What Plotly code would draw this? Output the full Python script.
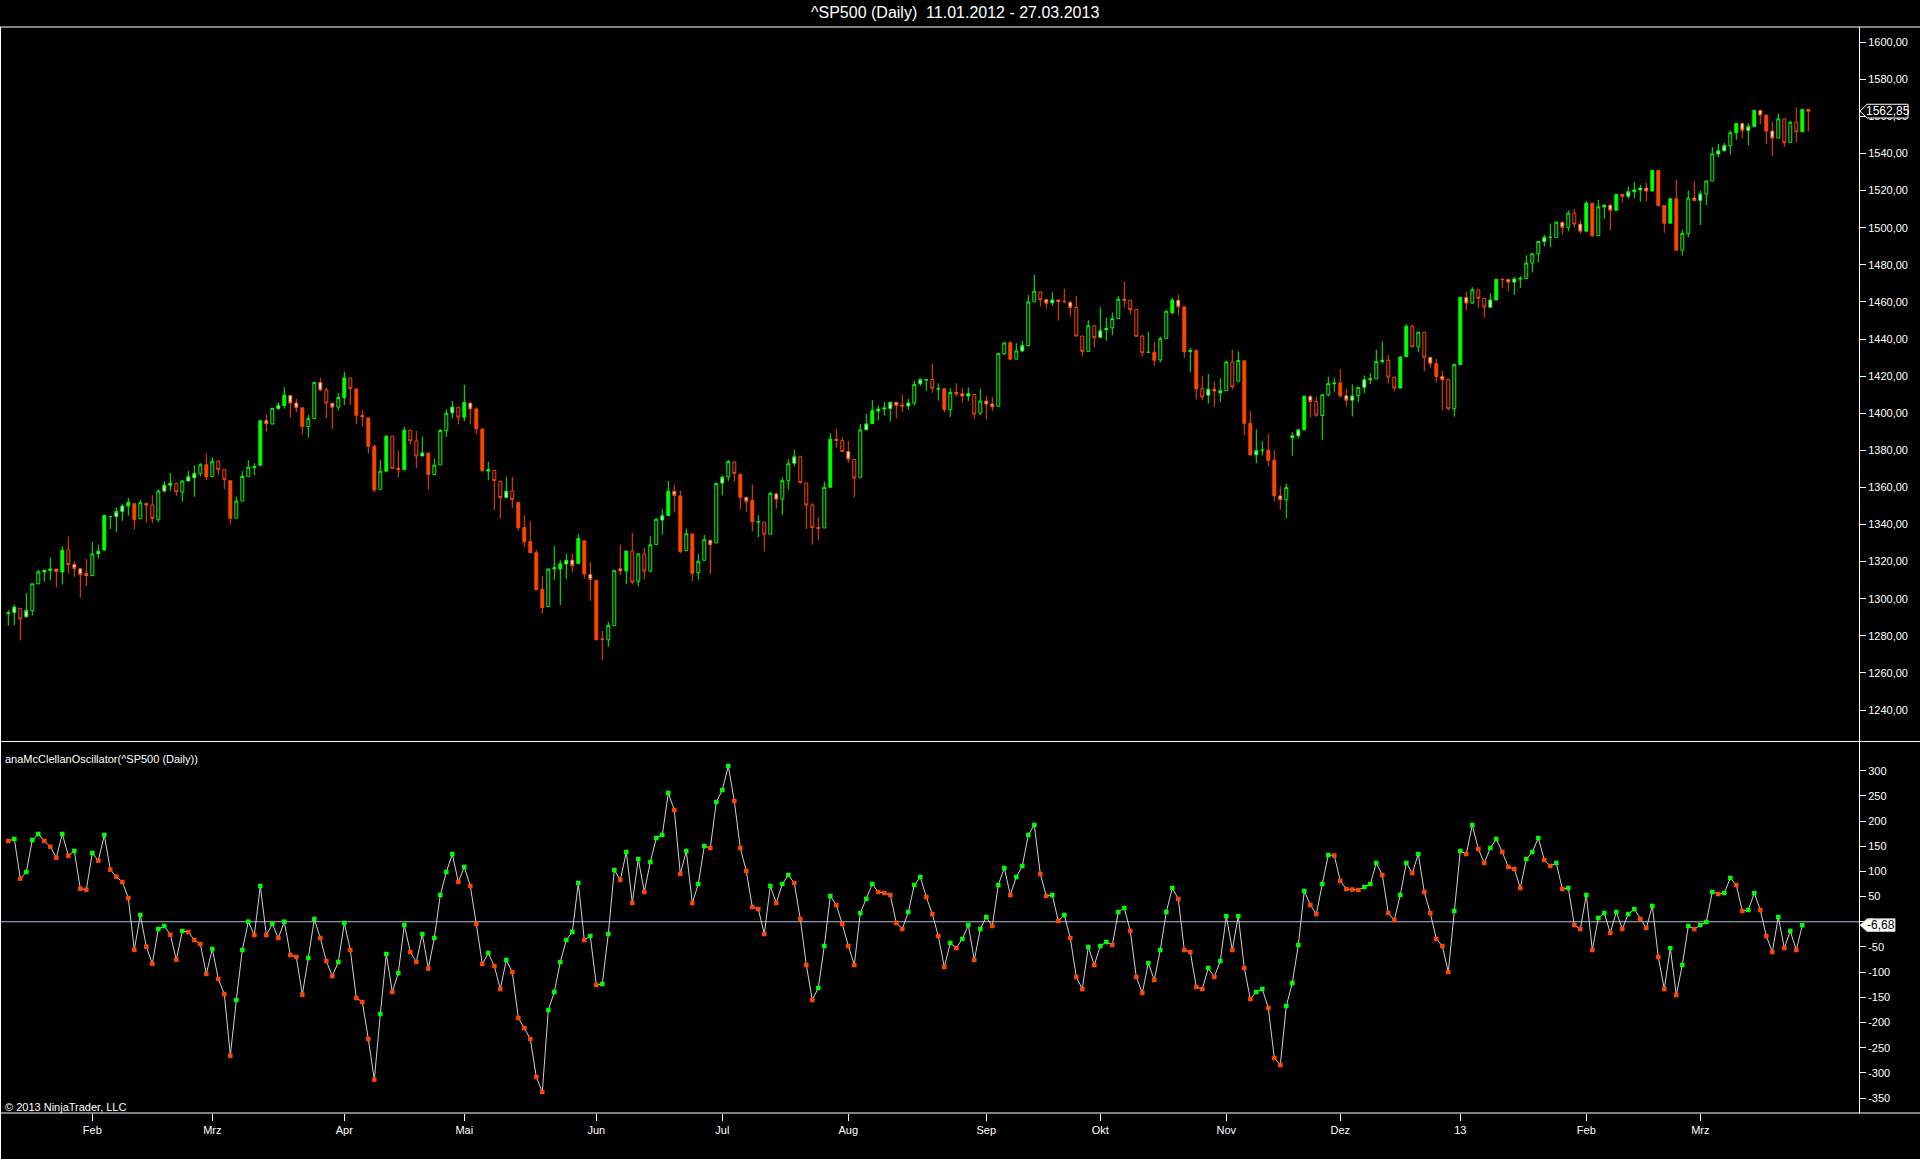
import pandas as pd
import plotly.graph_objects as go

# trading days on the chart (the data feed has no bars for 5 Nov and 19 Nov 2012)
closed = ['2012-01-16', '2012-02-20', '2012-04-06', '2012-05-28', '2012-07-04',
          '2012-09-03', '2012-10-29', '2012-10-30', '2012-11-05', '2012-11-19',
          '2012-11-22', '2012-12-25', '2013-01-01', '2013-01-21', '2013-02-18']
days = pd.bdate_range('2012-01-11', '2013-03-27')
dates = [d.strftime('%Y-%m-%d') for d in days if d.strftime('%Y-%m-%d') not in closed]

opens = [
    1292.02, 1292.48, 1294.82, 1290.22, 1293.65, 1308.07, 1314.49, 1315.29, 1315.96, 1314.40,
    1326.28, 1318.43, 1316.16, 1313.53, 1312.45, 1324.24, 1326.21, 1344.32, 1344.33, 1347.04,
    1349.97, 1351.21, 1343.06, 1351.30, 1350.52, 1342.61, 1358.06, 1361.22, 1362.11, 1357.53,
    1363.46, 1365.20, 1367.56, 1372.20, 1365.90, 1374.09, 1369.59, 1363.63, 1343.39, 1352.65,
    1365.97, 1370.78, 1371.92, 1395.95, 1394.17, 1402.55, 1404.17, 1409.59, 1405.52, 1402.89,
    1392.78, 1397.11, 1416.55, 1412.52, 1405.39, 1403.31, 1408.47, 1418.98, 1413.09, 1398.79,
    1397.45, 1382.18, 1358.98, 1368.77, 1387.61, 1370.27, 1369.57, 1390.78, 1385.08, 1376.96,
    1378.53, 1366.97, 1372.11, 1390.64, 1400.19, 1403.26, 1397.86, 1405.50, 1402.32, 1391.51,
    1368.79, 1369.16, 1363.20, 1354.58, 1358.11, 1351.93, 1338.36, 1330.78, 1324.82, 1305.05,
    1295.73, 1316.09, 1316.02, 1318.72, 1320.81, 1318.90, 1331.25, 1313.09, 1309.87, 1278.29,
    1277.82, 1285.61, 1316.15, 1314.99, 1325.72, 1309.40, 1324.02, 1314.88, 1329.19, 1342.42,
    1344.83, 1357.98, 1355.43, 1325.92, 1334.90, 1314.09, 1320.71, 1331.52, 1330.12, 1362.33,
    1365.75, 1373.72, 1367.09, 1354.66, 1352.96, 1341.40, 1341.29, 1334.81, 1356.50, 1353.68,
    1363.58, 1373.01, 1376.51, 1362.34, 1350.52, 1338.35, 1338.17, 1360.05, 1385.94, 1385.27,
    1379.32, 1375.13, 1365.45, 1391.04, 1394.46, 1401.23, 1402.26, 1402.58, 1405.87, 1404.36,
    1403.89, 1405.57, 1415.84, 1417.85, 1418.13, 1413.09, 1413.17, 1401.99, 1411.13, 1410.44,
    1409.32, 1410.08, 1400.07, 1406.54, 1404.94, 1403.74, 1432.12, 1437.92, 1429.13, 1433.56,
    1436.56, 1460.07, 1465.42, 1461.19, 1459.50, 1461.05, 1460.34, 1459.76, 1456.94, 1441.60,
    1433.36, 1447.13, 1440.90, 1444.99, 1446.05, 1451.08, 1461.40, 1460.93, 1455.90, 1441.48,
    1432.82, 1432.84, 1428.75, 1440.31, 1454.22, 1460.94, 1457.34, 1433.21, 1433.74, 1413.20,
    1409.74, 1412.97, 1410.99, 1412.16, 1427.59, 1417.26, 1428.27, 1394.53, 1377.55, 1379.86,
    1380.03, 1374.64, 1355.41, 1353.36, 1386.82, 1387.79, 1391.03, 1409.15, 1406.29, 1398.77,
    1409.96, 1415.95, 1416.34, 1409.46, 1407.05, 1409.43, 1413.95, 1418.07, 1418.55, 1427.84,
    1428.48, 1419.45, 1413.54, 1430.47, 1446.79, 1435.81, 1443.67, 1430.15, 1426.66, 1419.83,
    1418.10, 1402.43, 1426.19, 1462.42, 1459.37, 1466.47, 1461.89, 1457.15, 1461.02, 1472.12,
    1472.05, 1470.67, 1472.33, 1472.63, 1480.95, 1485.98, 1492.56, 1494.81, 1494.82, 1502.96,
    1500.18, 1507.84, 1501.96, 1498.11, 1513.17, 1495.71, 1511.29, 1512.12, 1509.39, 1517.93,
    1517.01, 1519.43, 1520.33, 1521.38, 1519.79, 1530.94, 1511.95, 1502.42, 1515.60, 1487.85,
    1496.94, 1515.99, 1514.68, 1518.20, 1525.20, 1539.79, 1541.46, 1544.26, 1551.15, 1556.22,
    1552.48, 1554.52, 1563.21, 1560.70, 1552.10, 1548.34, 1558.71, 1546.06, 1556.89, 1551.69,
    1563.75]

highs = [
    1293.80, 1296.82, 1294.82, 1303.00, 1308.11, 1315.49, 1315.38, 1322.28, 1315.96, 1328.30,
    1333.47, 1320.06, 1316.16, 1321.41, 1330.52, 1329.19, 1345.34, 1344.36, 1349.24, 1351.00,
    1354.32, 1351.21, 1353.35, 1351.30, 1355.87, 1359.02, 1363.40, 1367.76, 1362.70, 1364.24,
    1368.92, 1371.94, 1373.09, 1378.04, 1376.17, 1374.53, 1369.59, 1363.63, 1354.85, 1368.72,
    1374.76, 1373.04, 1396.13, 1399.42, 1402.63, 1405.88, 1414.00, 1409.59, 1407.75, 1402.89,
    1399.18, 1416.58, 1419.15, 1413.65, 1405.39, 1410.89, 1422.38, 1419.00, 1413.09, 1401.60,
    1397.45, 1383.01, 1374.71, 1388.13, 1387.61, 1379.66, 1392.76, 1390.78, 1390.46, 1387.40,
    1378.53, 1375.57, 1391.37, 1402.09, 1406.64, 1403.26, 1415.32, 1405.50, 1403.07, 1391.51,
    1373.91, 1369.16, 1363.73, 1365.88, 1365.66, 1351.93, 1345.03, 1341.78, 1326.36, 1312.24,
    1316.39, 1328.49, 1320.71, 1324.14, 1324.20, 1334.93, 1331.25, 1319.74, 1309.87, 1282.55,
    1287.62, 1315.13, 1329.05, 1325.81, 1335.52, 1324.31, 1327.28, 1333.68, 1343.32, 1348.22,
    1363.46, 1361.57, 1358.27, 1337.82, 1334.90, 1324.24, 1334.40, 1331.52, 1362.17, 1366.35,
    1374.81, 1373.85, 1367.09, 1354.87, 1361.54, 1345.00, 1341.29, 1357.70, 1357.26, 1365.36,
    1375.26, 1380.39, 1376.51, 1362.34, 1351.53, 1343.98, 1363.13, 1389.19, 1391.74, 1387.16,
    1385.03, 1375.13, 1394.16, 1399.63, 1407.14, 1404.14, 1405.95, 1405.98, 1405.87, 1410.03,
    1407.73, 1417.44, 1418.71, 1418.13, 1426.68, 1416.12, 1413.17, 1413.46, 1416.17, 1413.63,
    1413.95, 1410.08, 1413.09, 1409.31, 1408.81, 1432.12, 1437.92, 1438.74, 1437.76, 1439.15,
    1463.76, 1474.51, 1465.63, 1461.47, 1465.15, 1461.23, 1467.07, 1460.72, 1463.24, 1441.60,
    1450.20, 1447.13, 1457.14, 1451.52, 1454.30, 1463.14, 1470.96, 1460.93, 1455.90, 1442.52,
    1443.90, 1438.43, 1441.31, 1455.51, 1462.20, 1464.02, 1457.34, 1435.46, 1433.74, 1420.04,
    1421.12, 1417.09, 1418.76, 1428.35, 1434.27, 1433.38, 1428.27, 1401.23, 1391.39, 1384.87,
    1388.81, 1380.13, 1360.62, 1362.03, 1389.77, 1391.25, 1409.16, 1409.15, 1409.01, 1410.05,
    1419.70, 1418.86, 1423.73, 1413.14, 1415.56, 1413.95, 1420.34, 1421.64, 1434.27, 1438.59,
    1431.36, 1419.45, 1430.67, 1448.00, 1447.75, 1443.70, 1443.67, 1430.15, 1429.42, 1422.80,
    1418.10, 1426.74, 1462.43, 1465.47, 1467.94, 1466.47, 1461.89, 1464.73, 1472.30, 1472.75,
    1472.05, 1473.31, 1473.96, 1485.16, 1485.98, 1492.56, 1496.13, 1502.27, 1503.26, 1503.23,
    1509.35, 1509.94, 1504.19, 1514.41, 1513.17, 1514.96, 1512.53, 1512.90, 1518.31, 1518.31,
    1522.29, 1524.69, 1523.14, 1524.24, 1530.94, 1530.94, 1511.95, 1515.64, 1525.84, 1498.99,
    1520.08, 1525.34, 1519.99, 1525.27, 1543.47, 1545.25, 1545.78, 1552.48, 1556.27, 1556.77,
    1556.39, 1563.32, 1563.62, 1560.70, 1557.25, 1561.56, 1558.71, 1557.74, 1564.91, 1563.95,
    1564.07]

lows = [
    1285.41, 1285.77, 1277.58, 1290.22, 1290.99, 1308.07, 1309.17, 1309.89, 1306.06, 1307.65,
    1313.60, 1311.72, 1300.49, 1306.69, 1312.45, 1321.57, 1326.21, 1337.52, 1335.92, 1341.95,
    1344.63, 1337.35, 1343.06, 1340.83, 1340.80, 1341.22, 1357.24, 1358.11, 1355.53, 1352.28,
    1363.46, 1354.92, 1365.97, 1363.81, 1365.90, 1366.42, 1359.13, 1340.03, 1343.39, 1352.65,
    1365.97, 1366.69, 1371.92, 1389.97, 1394.17, 1401.47, 1402.43, 1397.68, 1400.64, 1388.73,
    1386.87, 1397.11, 1411.95, 1397.20, 1391.56, 1401.42, 1404.46, 1404.62, 1394.09, 1392.92,
    1378.24, 1357.38, 1358.98, 1368.77, 1369.85, 1365.38, 1369.57, 1383.29, 1370.30, 1376.96,
    1358.79, 1366.82, 1372.11, 1387.28, 1397.31, 1394.00, 1395.73, 1393.92, 1388.71, 1367.96,
    1363.94, 1347.75, 1343.13, 1354.58, 1348.89, 1336.61, 1327.75, 1324.79, 1304.86, 1291.98,
    1295.73, 1310.04, 1296.53, 1310.50, 1314.23, 1318.90, 1310.76, 1298.90, 1277.25, 1266.74,
    1274.16, 1285.61, 1312.68, 1307.77, 1307.73, 1306.62, 1310.51, 1314.14, 1329.19, 1334.46,
    1344.83, 1346.45, 1324.41, 1325.92, 1309.27, 1310.30, 1320.71, 1313.29, 1330.12, 1355.70,
    1363.53, 1363.02, 1348.03, 1346.65, 1336.27, 1333.25, 1325.41, 1334.81, 1348.51, 1345.07,
    1358.96, 1371.21, 1362.19, 1337.56, 1329.24, 1331.50, 1338.17, 1360.05, 1381.37, 1379.17,
    1373.35, 1354.65, 1365.45, 1391.04, 1394.46, 1396.13, 1398.80, 1395.62, 1397.32, 1400.60,
    1401.83, 1404.15, 1414.67, 1412.12, 1410.86, 1406.78, 1400.50, 1398.04, 1409.11, 1405.59,
    1406.57, 1397.01, 1398.96, 1396.56, 1401.25, 1403.74, 1431.45, 1428.98, 1429.13, 1432.99,
    1435.91, 1460.07, 1457.55, 1456.13, 1457.88, 1449.98, 1459.51, 1452.06, 1441.59, 1430.53,
    1433.36, 1435.60, 1440.90, 1439.01, 1441.99, 1451.08, 1456.89, 1453.10, 1441.18, 1430.64,
    1432.82, 1425.53, 1427.24, 1440.31, 1453.35, 1452.63, 1429.85, 1422.06, 1407.56, 1407.10,
    1405.14, 1403.28, 1405.95, 1412.16, 1412.91, 1417.26, 1388.14, 1377.51, 1373.03, 1377.19,
    1371.39, 1352.50, 1348.05, 1343.35, 1377.04, 1386.39, 1391.03, 1397.68, 1398.03, 1385.43,
    1409.04, 1411.63, 1408.46, 1403.65, 1398.23, 1405.93, 1410.90, 1415.64, 1418.55, 1426.76,
    1416.00, 1411.88, 1413.54, 1430.47, 1435.80, 1432.82, 1422.58, 1424.66, 1416.43, 1401.80,
    1401.58, 1398.11, 1426.19, 1455.53, 1458.99, 1456.62, 1451.64, 1457.15, 1461.02, 1467.58,
    1465.69, 1463.76, 1467.60, 1472.63, 1475.81, 1481.16, 1489.90, 1489.46, 1494.82, 1496.33,
    1498.09, 1500.11, 1496.76, 1498.11, 1495.02, 1495.71, 1504.71, 1498.49, 1509.39, 1513.61,
    1515.61, 1515.93, 1514.02, 1514.14, 1519.79, 1511.41, 1497.29, 1502.42, 1487.85, 1485.01,
    1494.88, 1514.46, 1501.48, 1512.29, 1525.20, 1538.11, 1541.46, 1539.37, 1547.36, 1548.24,
    1544.37, 1554.52, 1555.74, 1545.13, 1538.57, 1548.34, 1543.55, 1546.06, 1546.22, 1551.69,
    1551.90]

closes = [
    1292.48, 1295.50, 1289.09, 1293.67, 1308.04, 1314.50, 1315.38, 1316.00, 1314.65, 1326.06,
    1318.43, 1316.33, 1313.01, 1312.41, 1324.09, 1325.54, 1344.90, 1344.33, 1347.05, 1349.96,
    1351.95, 1342.64, 1351.77, 1350.50, 1343.23, 1358.04, 1361.23, 1362.21, 1357.66, 1363.46,
    1365.74, 1367.59, 1372.18, 1365.68, 1374.09, 1369.63, 1364.33, 1343.36, 1352.63, 1365.91,
    1370.87, 1371.09, 1395.95, 1394.28, 1402.60, 1404.17, 1409.75, 1405.52, 1402.89, 1392.78,
    1397.11, 1416.51, 1412.52, 1405.54, 1403.28, 1408.47, 1419.04, 1413.38, 1398.96, 1398.08,
    1382.20, 1358.59, 1368.71, 1387.57, 1370.26, 1369.57, 1390.78, 1385.14, 1376.92, 1378.53,
    1366.94, 1371.97, 1390.69, 1399.98, 1403.36, 1397.91, 1405.82, 1402.31, 1391.57, 1369.10,
    1369.58, 1363.72, 1354.58, 1357.99, 1353.39, 1338.35, 1330.66, 1324.80, 1304.86, 1295.22,
    1315.99, 1316.63, 1318.86, 1320.68, 1317.82, 1332.42, 1313.32, 1310.33, 1278.04, 1278.18,
    1285.50, 1315.13, 1314.99, 1325.66, 1308.93, 1324.18, 1314.88, 1329.10, 1342.84, 1344.78,
    1357.98, 1355.69, 1325.51, 1335.02, 1313.72, 1319.99, 1331.85, 1329.04, 1362.16, 1365.51,
    1374.02, 1367.58, 1354.68, 1352.46, 1341.47, 1341.45, 1334.76, 1356.78, 1353.64, 1363.67,
    1372.78, 1376.51, 1362.66, 1350.52, 1338.31, 1337.89, 1360.02, 1385.97, 1385.30, 1379.32,
    1375.32, 1365.00, 1390.99, 1394.23, 1401.35, 1402.22, 1402.80, 1405.87, 1404.11, 1403.93,
    1405.53, 1415.51, 1418.16, 1418.13, 1413.49, 1413.17, 1402.08, 1411.13, 1410.44, 1409.30,
    1410.49, 1399.48, 1406.58, 1404.94, 1403.44, 1432.12, 1437.92, 1429.08, 1433.56, 1436.56,
    1459.99, 1465.77, 1461.19, 1459.32, 1461.05, 1460.26, 1460.15, 1456.89, 1441.59, 1433.32,
    1447.15, 1440.67, 1444.49, 1445.75, 1450.99, 1461.40, 1460.93, 1455.88, 1441.48, 1432.56,
    1432.84, 1428.59, 1440.13, 1454.92, 1460.91, 1457.34, 1433.19, 1433.82, 1413.11, 1408.75,
    1412.97, 1411.94, 1412.16, 1427.59, 1414.20, 1428.39, 1394.53, 1377.51, 1379.85, 1380.03,
    1374.53, 1355.49, 1353.33, 1359.88, 1387.81, 1391.03, 1409.15, 1406.29, 1398.94, 1409.93,
    1415.95, 1416.18, 1409.46, 1407.05, 1409.28, 1413.94, 1418.07, 1418.55, 1427.84, 1428.48,
    1419.45, 1413.58, 1430.36, 1446.79, 1435.81, 1443.69, 1430.15, 1426.66, 1419.83, 1418.10,
    1402.43, 1426.19, 1462.42, 1459.37, 1466.47, 1461.89, 1457.15, 1461.02, 1472.12, 1472.05,
    1470.68, 1472.34, 1472.63, 1480.94, 1485.98, 1492.56, 1494.81, 1494.82, 1502.96, 1500.18,
    1507.84, 1501.96, 1498.11, 1513.17, 1495.71, 1511.29, 1512.12, 1509.39, 1517.93, 1517.01,
    1519.43, 1520.33, 1521.38, 1519.79, 1530.94, 1511.95, 1502.42, 1515.60, 1487.85, 1496.94,
    1515.99, 1514.68, 1518.20, 1525.20, 1539.79, 1541.46, 1544.26, 1551.18, 1556.22, 1552.48,
    1554.52, 1563.23, 1560.70, 1552.10, 1548.34, 1558.71, 1545.80, 1556.89, 1551.69, 1563.77,
    1562.85]

# bars drawn with a solid body in the reference (index into dates)
solid_bars = [9, 16, 20, 21, 33, 37, 42, 46, 49, 56, 58, 60, 61, 63, 66, 70, 76, 78, 79,
              85, 86, 87, 88, 89, 92, 95, 96, 98, 103, 110, 112, 114, 122, 124, 137, 144, 156,
              167, 191, 194, 196, 198, 206, 207, 210, 211, 216, 222, 232, 233, 238,
              242, 248, 263, 264, 268, 274, 275, 276, 277, 278, 288, 291, 293, 299]

# anaMcClellanOscillator, one value per bar (none on the last bar)
osc = [
    160.4, 164.3, 85.6, 98.8, 162.3, 174.3, 160.4, 149.1, 127.3, 174.3,
    131.2, 140.5, 65.7, 63.7, 136.5, 121.3, 172.3, 103.5, 89.5, 79.0,
    47.2, -55.4, 13.4, -49.4, -83.2, -14.4, -8.4, -25.6, -75.2, -18.3,
    -20.3, -36.2, -44.1, -103.7, -54.1, -113.6, -143.4, -265.8, -155.3, -56.0,
    0.2, -26.3, 71.0, -26.3, -4.4, -32.2, 0.2, -65.9, -69.9, -144.7,
    -71.9, 5.5, -32.2, -77.9, -107.7, -79.9, -2.4, -56.0, -151.3, -159.3,
    -232.7, -313.4, -183.1, -64.0, -139.4, -101.7, -6.4, -60.0, -79.9, -24.3,
    -93.1, -32.2, 53.1, 98.8, 134.5, 79.0, 108.7, 71.0, -4.4, -83.8,
    -62.0, -87.8, -133.5, -75.9, -99.7, -191.0, -210.9, -232.7, -308.2, -338.0,
    -175.2, -139.4, -79.9, -36.2, -20.3, 77.0, -36.2, -28.3, -125.5, -123.5,
    -24.3, 102.8, 82.9, 138.5, 37.3, 124.6, 59.1, 118.7, 166.3, 172.3,
    255.7, 221.9, 95.0, 140.5, 37.3, 75.0, 150.4, 146.5, 237.8, 261.6,
    309.3, 239.8, 146.5, 100.8, 29.3, 25.3, -24.3, 71.0, 37.3, 75.0,
    92.9, 77.0, 5.5, -85.8, -155.3, -131.5, -48.1, 51.2, 33.3, -4.4,
    -48.1, -85.8, 17.4, 45.2, 75.0, 59.1, 57.1, 53.1, -2.4, -14.4,
    19.4, 73.0, 88.9, 49.2, 15.4, -28.3, -89.8, -42.1, -52.1, -34.2,
    -6.4, -75.9, -14.4, 9.5, -8.4, 73.0, 106.8, 53.1, 88.9, 110.7,
    172.3, 192.1, 94.8, 51.2, 53.1, 1.5, 13.4, -32.2, -109.6, -133.5,
    -50.1, -85.8, -48.1, -40.2, -46.1, 19.4, 27.3, -18.3, -109.6, -141.4,
    -81.9, -115.6, -56.0, 19.4, 67.0, 45.2, -56.0, -60.0, -129.5, -133.5,
    -91.8, -109.6, -77.9, 11.4, -56.0, 11.4, -91.8, -153.3, -139.4, -133.5,
    -171.2, -270.5, -284.4, -167.2, -121.6, -46.1, 61.1, 33.3, 15.4, 75.0,
    132.6, 131.5, 80.9, 65.1, 64.0, 63.0, 69.0, 75.0, 116.7, 92.9,
    17.4, 3.5, 53.1, 116.7, 96.8, 134.5, 59.1, 17.4, -34.2, -48.1,
    -99.7, 21.4, 140.5, 134.5, 192.1, 144.5, 116.7, 146.5, 164.3, 138.5,
    108.7, 104.8, 67.0, 124.6, 138.5, 166.3, 122.6, 110.7, 116.7, 65.1,
    67.0, -6.4, -14.4, 53.1, -56.0, 7.5, 17.4, -22.3, 19.4, -14.4,
    15.4, 25.3, 5.5, -12.4, 31.3, -69.9, -133.5, -52.1, -145.4, -85.8,
    -8.4, -14.4, -6.4, -0.4, 59.1, 55.1, 57.1, 86.9, 73.0, 21.4,
    23.4, 57.1, 23.4, -28.3, -60.0, 9.5, -52.1, -18.3, -56.0, -6.68,
    None]

month_dates = ['2012-02-01', '2012-03-01', '2012-04-02', '2012-05-01', '2012-06-01',
               '2012-07-02', '2012-08-01', '2012-09-04', '2012-10-01', '2012-11-01',
               '2012-12-03', '2013-01-02', '2013-02-01', '2013-03-01']
month_labels = ['Feb', 'Mrz', 'Apr', 'Mai', 'Jun', 'Jul', 'Aug', 'Sep', 'Okt', 'Nov',
                'Dez', '13', 'Feb', 'Mrz']
price_ticks = list(range(1240, 1601, 20))
osc_ticks = list(range(-350, 301, 50))

for arr in (opens, highs, lows, closes, osc):
    assert len(arr) == len(dates), (len(arr), len(dates))

W, H = 1920, 1159
GREEN = '#00ff00'
RED = '#ff4500'
FONT = 'Liberation Sans, Arial, sans-serif'


def px(x):
    return x / W


def py(y):
    return 1 - y / H


X0, X1 = px(1), px(1859)

fig = go.Figure()

# candles: colour by direction, body solid / hollow (small hollow bodies show white inside)
groups = {}
for i in range(len(dates)):
    up = closes[i] >= opens[i]
    if i in solid_bars:
        kind = 'solid'
    elif abs(closes[i] - opens[i]) < 4.2:
        kind = 'small'
    else:
        kind = 'hollow'
    groups.setdefault((up, kind), []).append(i)

for (up, kind), idx in groups.items():
    col = GREEN if up else RED
    fill = {'solid': col, 'small': 'white', 'hollow': 'black'}[kind]
    style = dict(line=dict(color=col, width=1), fillcolor=fill)
    fig.add_trace(go.Candlestick(
        x=[dates[i] for i in idx],
        open=[opens[i] for i in idx], high=[highs[i] for i in idx],
        low=[lows[i] for i in idx], close=[closes[i] for i in idx],
        increasing=style, decreasing=style, whiskerwidth=0,
        showlegend=False, xaxis='x', yaxis='y'))

# oscillator: green when rising, red when falling
osc_colors = [RED]
for prev, cur in zip(osc[:-1], osc[1:]):
    osc_colors.append(GREEN if (cur is not None and prev is not None and cur > prev) else RED)

fig.add_trace(go.Scatter(
    x=dates, y=osc, mode='lines+markers',
    line=dict(color='#cfcfcf', width=1),
    marker=dict(symbol='square', size=4.5, color=osc_colors, line=dict(width=0)),
    showlegend=False, xaxis='x2', yaxis='y2'))

axis_common = dict(showgrid=False, zeroline=False, color='white')

fig.update_layout(
    width=W, height=H, margin=dict(l=0, r=0, t=0, b=0),
    paper_bgcolor='black', plot_bgcolor='black',
    font=dict(family=FONT, size=11, color='white'),
    showlegend=False, hovermode=False,
    xaxis=dict(domain=[X0, X1], anchor='y', type='category',
               categoryorder='array', categoryarray=dates,
               range=[-1.22, 308.45], showticklabels=False, ticks='',
               rangeslider=dict(visible=False), **axis_common),
    xaxis2=dict(domain=[X0, X1], anchor='y2', type='category', matches='x',
                categoryorder='array', categoryarray=dates,
                range=[-1.22, 308.45], tickvals=month_dates, ticktext=month_labels,
                ticks='outside', ticklen=7, tickcolor='white', tickwidth=1,
                tickfont=dict(size=11, color='white'), showline=False, **axis_common),
    yaxis=dict(domain=[py(741), py(27)], anchor='x', side='right',
               range=[1223.3, 1608.2], tickvals=price_ticks,
               ticktext=[f'{v},00' for v in price_ticks],
               ticks='outside', ticklen=6, tickcolor='white', tickwidth=1,
               tickfont=dict(size=11, color='white'),
               showline=True, linecolor='white', linewidth=1, **axis_common),
    yaxis2=dict(domain=[py(1113), py(742)], anchor='x2', side='right',
                range=[-379.6, 356.9], tickvals=osc_ticks,
                ticktext=[str(v) for v in osc_ticks],
                ticks='outside', ticklen=6, tickcolor='white', tickwidth=1,
                tickfont=dict(size=11, color='white'),
                showline=True, linecolor='white', linewidth=1, **axis_common),
)

# frame lines
for y in (27, 741.5, 1113):
    fig.add_shape(type='line', xref='paper', yref='paper', x0=0, x1=1, y0=py(y), y1=py(y),
                  line=dict(color='white', width=1))
fig.add_shape(type='line', xref='paper', yref='paper', x0=px(0.5), x1=px(0.5),
              y0=py(27), y1=py(H), line=dict(color='white', width=1))

# zero line of the oscillator
fig.add_shape(type='line', xref='paper', yref='y2', x0=X0, x1=X1, y0=0, y1=0,
              line=dict(color='#b0c4de', width=1), layer='below')

# last value markers on the right axes
last_close = closes[-1]
last_osc = [v for v in osc if v is not None][-1]


def tag_path(yc, half, right):
    xt, xb, xr = px(1860), px(1867), px(right)
    return (f'M {xt},{yc} L {xb},{yc + half} L {xr},{yc + half} '
            f'L {xr},{yc - half} L {xb},{yc - half} Z')


fig.add_shape(type='path', xref='paper', yref='y', path=tag_path(last_close, 3.7, 1908),
              fillcolor='black', line=dict(color='white', width=1), layer='above')
fig.add_annotation(xref='paper', yref='y', x=px(1887.5), y=last_close,
                   text=f'{last_close:.2f}'.replace('.', ','), showarrow=False,
                   xanchor='center', yanchor='middle',
                   font=dict(size=12, color='white', family=FONT))

fig.add_shape(type='path', xref='paper', yref='y2', path=tag_path(last_osc, 12.5, 1895),
              fillcolor='white', line=dict(color='#c0c0c0', width=1), layer='above')
fig.add_annotation(xref='paper', yref='y2', x=px(1881), y=last_osc,
                   text=f'{last_osc:.2f}'.replace('.', ','), showarrow=False,
                   xanchor='center', yanchor='middle',
                   font=dict(size=12, color='black', family=FONT))

# texts
first_day = pd.Timestamp(dates[0])
last_day = pd.Timestamp(dates[-1])
title = f'^SP500 (Daily)\u00a0 {first_day:%d.%m.%Y} - {last_day:%d.%m.%Y}'
fig.add_annotation(xref='paper', yref='paper', x=px(955), y=py(13), text=title,
                   showarrow=False, xanchor='center', yanchor='middle',
                   font=dict(size=16, color='white', family=FONT))
fig.add_annotation(xref='paper', yref='paper', x=px(3), y=py(759),
                   text='anaMcClellanOscillator(^SP500 (Daily))',
                   showarrow=False, xanchor='left', yanchor='middle',
                   font=dict(size=11, color='white', family=FONT))
fig.add_annotation(xref='paper', yref='paper', x=px(3), y=py(1107),
                   text='© 2013 NinjaTrader, LLC',
                   showarrow=False, xanchor='left', yanchor='middle',
                   font=dict(size=11, color='white', family=FONT))

fig.write_html('out.html', config={'displayModeBar': False},
               post_script="document.body.style.margin='0';"
                           "document.body.style.background='#000';"
                           "document.body.style.overflow='hidden';")
